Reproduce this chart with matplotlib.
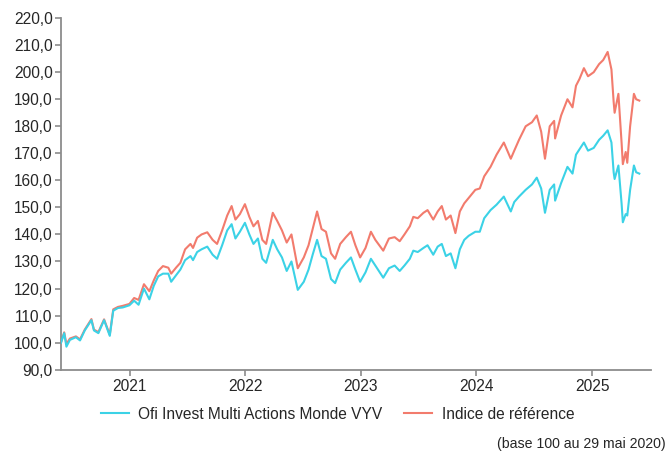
import numpy as np
import pandas as pd
import matplotlib
matplotlib.use("Agg")
import matplotlib.pyplot as plt
from matplotlib.ticker import FuncFormatter

plt.rcParams['font.family'] = ['Liberation Sans', 'DejaVu Sans']

# values (base 100 on 29 May 2020)
dates = [
    "2020-05-29", "2020-06-08", "2020-06-15", "2020-06-26", "2020-07-15", "2020-07-28",
    "2020-08-12", "2020-09-02", "2020-09-10", "2020-09-24", "2020-10-12", "2020-10-30",
    "2020-11-10", "2020-11-25", "2020-12-10", "2020-12-31", "2021-01-15", "2021-01-29",
    "2021-02-15", "2021-03-04", "2021-03-18", "2021-04-01", "2021-04-16", "2021-05-03",
    "2021-05-12", "2021-05-28", "2021-06-10", "2021-06-25", "2021-07-12", "2021-07-20",
    "2021-08-02", "2021-08-16", "2021-09-03", "2021-09-20", "2021-10-04", "2021-10-20",
    "2021-11-05", "2021-11-19", "2021-12-01", "2021-12-15", "2021-12-31", "2022-01-14",
    "2022-01-27", "2022-02-10", "2022-02-24", "2022-03-08", "2022-03-29", "2022-04-12",
    "2022-04-27", "2022-05-12", "2022-05-27", "2022-06-16", "2022-07-05", "2022-07-20",
    "2022-08-02", "2022-08-16", "2022-08-30", "2022-09-13", "2022-09-29", "2022-10-12",
    "2022-10-28", "2022-11-15", "2022-12-01", "2022-12-15", "2022-12-30", "2023-01-16",
    "2023-02-02", "2023-02-16", "2023-03-13", "2023-03-31", "2023-04-18", "2023-05-04",
    "2023-05-19", "2023-06-05", "2023-06-16", "2023-06-30", "2023-07-18", "2023-07-31",
    "2023-08-18", "2023-09-01", "2023-09-14", "2023-09-27", "2023-10-12", "2023-10-27",
    "2023-11-10", "2023-11-24", "2023-12-08", "2023-12-29", "2024-01-12", "2024-01-26",
    "2024-02-15", "2024-03-05", "2024-03-28", "2024-04-19", "2024-04-30", "2024-05-15",
    "2024-06-05", "2024-06-25", "2024-07-10", "2024-07-24", "2024-08-05", "2024-08-20",
    "2024-09-03", "2024-09-06", "2024-09-25", "2024-10-15", "2024-10-31", "2024-11-11",
    "2024-11-22", "2024-12-06", "2024-12-19", "2025-01-06", "2025-01-23", "2025-02-05",
    "2025-02-19", "2025-03-03", "2025-03-10", "2025-03-13", "2025-03-25", "2025-04-04",
    "2025-04-08", "2025-04-17", "2025-04-22", "2025-05-01", "2025-05-13", "2025-05-20",
    "2025-05-30",
]

fund = [
    100.0, 103.5, 98.5, 101.0, 102.0, 100.8,
    104.5, 108.3, 104.5, 103.5, 108.3, 102.5,
    111.8, 112.8, 113.0, 113.8, 115.5, 114.0,
    120.0, 116.0, 121.0, 124.5, 125.5, 125.5,
    122.5, 125.0, 127.0, 130.5, 132.0, 130.5,
    133.5, 134.5, 135.5, 132.5, 131.0, 136.0,
    141.5, 143.8, 138.5, 141.0, 144.3, 140.0,
    136.5, 138.5, 131.0, 129.5, 138.0, 134.5,
    131.5, 126.5, 130.0, 119.5, 122.5, 127.0,
    132.5, 138.0, 132.0, 131.0, 123.5, 122.0,
    127.0, 129.5, 131.5, 127.0, 122.5, 126.0,
    131.0, 128.5, 124.0, 127.5, 128.5, 126.5,
    128.5, 131.0, 134.0, 133.5, 135.0, 136.0,
    132.5, 135.5, 136.5, 132.0, 133.0, 127.5,
    134.5, 138.0, 139.5, 141.0, 141.0, 146.0,
    149.0, 151.0, 154.0, 148.5, 152.0, 154.0,
    156.5, 158.5, 161.0, 157.0, 148.0, 156.5,
    158.5, 152.5, 159.0, 165.0, 162.5, 169.5,
    171.5, 174.0, 171.0, 172.0, 175.0, 176.5,
    178.5, 174.0, 163.0, 160.5, 165.5, 151.5,
    144.5, 147.5, 147.0, 156.5, 165.5, 163.0,
    162.5,
]

index = [
    100.0, 103.8, 99.5, 101.5, 102.3, 101.2,
    104.8, 108.7, 104.8, 103.9, 108.6, 102.9,
    112.3, 113.2, 113.6, 114.3, 116.5, 115.8,
    121.6, 119.0, 123.0, 126.5, 128.3, 127.7,
    125.5, 127.8, 129.5, 134.5, 136.5, 135.0,
    138.8, 140.0, 140.8, 138.0, 136.5, 141.5,
    147.0, 150.5, 145.5, 147.5, 151.2, 146.5,
    143.0, 145.0, 138.0, 136.5, 148.0, 145.0,
    141.5, 137.0, 140.0, 127.5, 131.5, 136.0,
    142.0, 148.5, 142.0, 141.0, 133.0, 131.0,
    136.5, 139.0, 141.0, 136.0, 131.5, 135.0,
    141.0, 138.0, 134.0, 138.5, 139.0, 137.5,
    140.0, 143.0, 146.5, 146.0, 148.0, 149.0,
    145.5, 148.5, 150.5, 145.5, 147.0, 140.5,
    148.5, 151.5, 153.5, 156.5, 157.0, 161.5,
    165.0, 169.5, 174.0, 168.0, 171.0, 175.0,
    180.0, 181.5, 184.0, 178.0, 168.0, 180.0,
    182.0, 175.5, 184.0, 190.0, 187.0, 195.0,
    197.5, 201.5, 198.5, 200.0, 203.0, 204.5,
    207.5, 201.0, 189.0, 185.0, 192.0, 174.0,
    166.0, 170.5, 166.5, 180.0, 192.0, 190.0,
    189.5,
]

labels = ["Ofi Invest Multi Actions Monde VYV", "Indice de référence"]
y_ticks = list(range(90, 230, 10))
x_years = ["2021", "2022", "2023", "2024", "2025"]

blue = "#3bd2e6"
red = "#f27b6d"
grey = "#8c8c8c"
text_col = "#262626"

t = pd.to_datetime(dates)

fig = plt.figure(figsize=(6.67, 4.53), dpi=100)
ax = fig.add_axes([0.0915, 0.184, 0.885, 0.776])

ax.plot(t, fund, color=blue, linewidth=1.5, label=labels[0], zorder=3)
ax.plot(t, index, color=red, linewidth=1.5, label=labels[1], zorder=2)

ax.set_ylim(90, 220)
ax.set_yticks(y_ticks)
ax.yaxis.set_major_formatter(FuncFormatter(lambda v, p: f"{v:.1f}".replace(".", ",")))
ax.set_xlim(pd.Timestamp("2020-05-29"), pd.Timestamp("2025-07-07"))
ax.set_xticks(pd.to_datetime([y + "-01-01" for y in x_years]))
ax.set_xticklabels(x_years)

for s in ["top", "right"]:
    ax.spines[s].set_visible(False)
for s in ["left", "bottom"]:
    ax.spines[s].set_color(grey)
    ax.spines[s].set_linewidth(1.3)
ax.tick_params(axis="both", colors=grey, length=4, width=1.2, labelsize=11.2,
               labelcolor=text_col)
ax.tick_params(axis="y", pad=2)
ax.tick_params(axis="x", pad=3)

fig.legend(loc="center", bbox_to_anchor=(0.506, 0.086), ncol=2, frameon=False,
           fontsize=11.2, handlelength=1.8, columnspacing=1.4, handletextpad=0.6,
           labelcolor=text_col)
fig.text(0.998, 0.004, "(base 100 au 29 mai 2020)", ha="right", va="bottom",
         fontsize=10.2, color=text_col)

fig.savefig("out.png", dpi=100)
